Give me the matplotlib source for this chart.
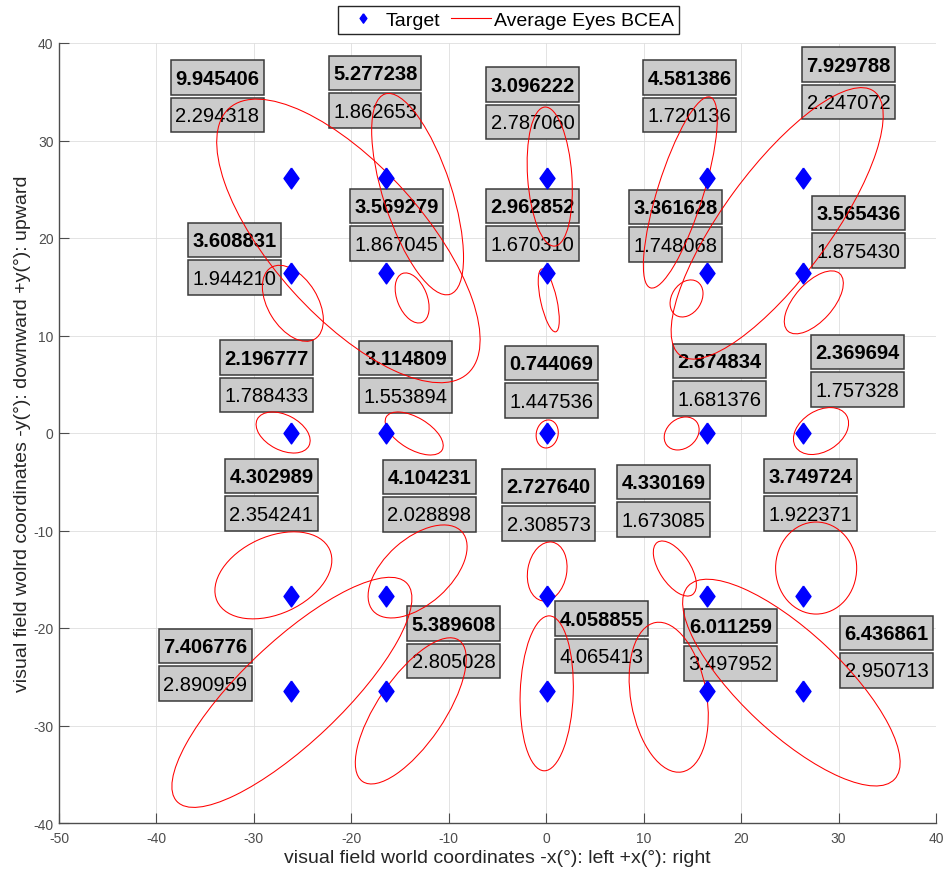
import numpy as np
import matplotlib.pyplot as plt
from matplotlib.patches import Ellipse, Rectangle

plt.rcParams['font.family'] = ['Liberation Sans', 'DejaVu Sans']
plt.rcParams['axes.unicode_minus'] = False

# Target grid (deg)
target_x = [-26.2, -16.4, 0.1, 16.5, 26.3]
target_y = [26.2, 16.4, 0.0, -16.7, -26.5]

# BCEA ellipses, read row by row (top -> bottom, left -> right)
ell_cx = [-20.3, -13.2, 0.36, 13.76, 23.7,
          -26.0, -13.76, 0.26, 14.4, 27.46,
          -27.0, -13.55, 0.1, 13.9, 28.2,
          -28.0, -13.2, 0.1, 13.2, 27.7,
          -26.1, -13.9, 0.05, 12.57, 25.16]
ell_cy = [19.7, 24.5, 26.3, 24.67, 21.5,
          13.3, 13.85, 13.6, 13.8, 13.4,
          0.05, -0.05, -0.1, -0.05, 0.2,
          -14.6, -14.2, -14.2, -13.9, -13.85,
          -26.6, -28.5, -26.7, -27.1, -25.6]
ell_a = [18.3, 10.8, 7.15, 10.25, 16.8,
         4.3, 2.7, 3.3, 2.04, 3.97,
         2.98, 3.33, 1.45, 1.94, 3.07,
         6.35, 6.1, 3.05, 3.23, 4.72,
         16.26, 8.77, 7.95, 7.78, 14.5]
ell_b = [7.7, 3.5, 2.27, 2.34, 5.48,
         2.55, 1.53, 0.83, 1.52, 1.96,
         1.8, 1.63, 1.12, 1.52, 2.09,
         3.95, 3.37, 2.0, 1.56, 4.16,
         5.15, 3.42, 2.72, 3.89, 5.17]
ell_ang = [-48, 108, 94, 72.6, 53.7,
           121.6, 112, 102.5, 57, 48,
           -27.3, -30.8, 78, 38, 32,
           24.7, 41.6, 80, 123.6, 90,
           43.5, 55.7, 88, 100, 136.9]

# numbers shown in the boxes (bold = upper box, plain = lower box)
bcea_bold = [9.945406, 5.277238, 3.096222, 4.581386, 7.929788,
             3.608831, 3.569279, 2.962852, 3.361628, 3.565436,
             2.196777, 3.114809, 0.744069, 2.874834, 2.369694,
             4.302989, 4.104231, 2.727640, 4.330169, 3.749724,
             7.406776, 5.389608, 4.058855, 6.011259, 6.436861]
bcea_plain = [2.294318, 1.862653, 2.787060, 1.720136, 2.247072,
              1.944210, 1.867045, 1.670310, 1.748068, 1.875430,
              1.788433, 1.553894, 1.447536, 1.681376, 1.757328,
              2.354241, 2.028898, 2.308573, 1.673085, 1.922371,
              2.890959, 2.805028, 4.065413, 3.497952, 2.950713]

# where the boxes sit (left edge x, centre y of the upper box)
box_x = [-38.5, -22.3, -6.16, 9.96, 26.28,
         -36.76, -20.12, -6.16, 8.52, 27.31,
         -33.47, -19.2, -4.21, 13.04, 27.21,
         -32.96, -16.74, -4.52, 7.29, 22.38,
         -39.73, -14.27, 0.92, 14.17, 30.18]
box_y = [36.46, 36.92, 35.74, 36.46, 37.79,
         19.79, 23.28, 23.28, 23.18, 22.56,
         7.74, 7.69, 7.18, 7.38, 8.31,
         -4.41, -4.51, -5.44, -5.03, -4.41,
         -21.85, -19.54, -19.03, -19.79, -20.51]

box_w = 9.5
box_h = 3.54
box_step = 3.85

# MATLAB-like diamond (a bit wider than matplotlib's 'd')
diamond = [(0, 1), (0.72, 0), (0, -1), (-0.72, 0), (0, 1)]

fig = plt.figure(figsize=(9.44, 8.78), dpi=100)
ax = fig.add_axes([59/944, 54/878, 877/944, 780/878])

tx, ty = np.meshgrid(target_x, target_y)
ax.plot(tx.ravel(), ty.ravel(), ls='none', marker=diamond, color='blue', mec='blue',
        ms=15, zorder=5, label='Target')
ax.plot([], [], '-', color='red', lw=0.8, label='Average Eyes BCEA')

#ellipses
for i in range(len(ell_cx)):
    e = Ellipse((ell_cx[i], ell_cy[i]), 2*ell_a[i], 2*ell_b[i], angle=ell_ang[i],
                fill=False, edgecolor='red', lw=0.75, zorder=4)
    ax.add_patch(e)

#value boxes
for i in range(len(box_x)):
    for k, (val, wt) in enumerate([(bcea_bold[i], 'bold'), (bcea_plain[i], 'normal')]):
        yc = box_y[i] - k*box_step
        ax.add_patch(Rectangle((box_x[i], yc - box_h/2), box_w, box_h, facecolor='#cbcbcb',
                               edgecolor='#3a3a3a', lw=1.1, zorder=2))
        ax.text(box_x[i] + box_w/2, yc - 0.05, '%.6f' % val, ha='center', va='center',
                fontsize=14.5, fontweight=wt, color='black', zorder=3)

ax.set_xlim(-50, 40)
ax.set_ylim(-40, 40)
ax.set_xticks(range(-50, 41, 10))
ax.set_yticks(range(-40, 41, 10))
ax.grid(True, color='#dedede', lw=0.6)
ax.set_axisbelow(True)
for s in ['top', 'right']:
    ax.spines[s].set_visible(False)
for s in ['left', 'bottom']:
    ax.spines[s].set_color('#4d4d4d')
    ax.spines[s].set_linewidth(1.0)
ax.tick_params(direction='in', length=7, width=0.8, colors='#4d4d4d', labelsize=10)
ax.tick_params(axis='x', pad=5.5)
ax.tick_params(axis='y', pad=4)

ax.set_xlabel('visual field world coordinates -x(°): left +x(°): right', fontsize=14, color='#262626')
ax.set_ylabel('visual field wolrd coordinates -y(°): downward +y(°): upward', fontsize=14, color='#262626')
ax.xaxis.set_label_coords(0.5, -0.0327)
ax.yaxis.set_label_coords(-0.032, 0.5)

fig.legend(loc='center', bbox_to_anchor=(508.5/944, 1 - 21/878), ncol=2, fontsize=14,
           markerscale=0.45, handlelength=2.05, handletextpad=0.15, columnspacing=0.55,
           borderpad=0.25, fancybox=False, framealpha=1, edgecolor='#262626')

plt.savefig('out.png', dpi=100)
